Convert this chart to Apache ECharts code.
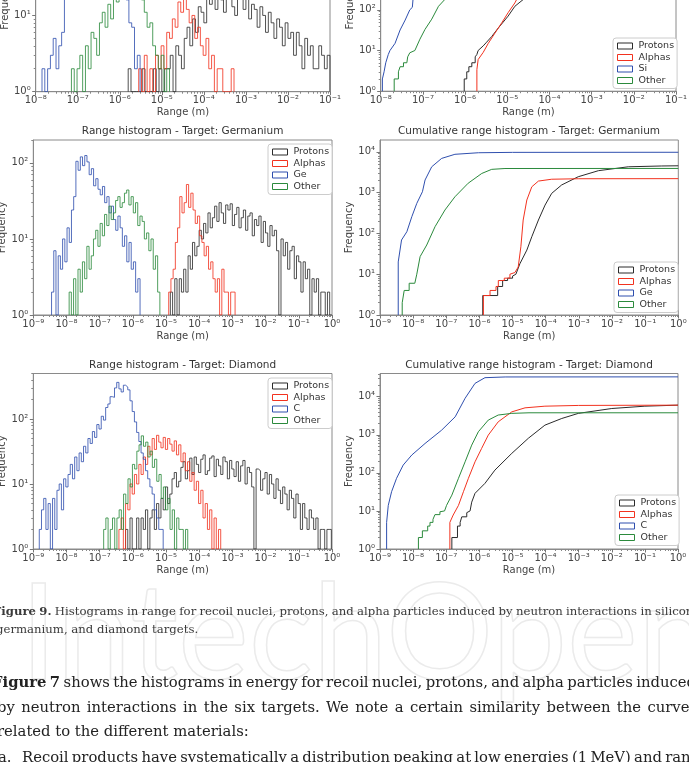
<!DOCTYPE html>
<html><head><meta charset="utf-8">
<script src="https://cdn.jsdelivr.net/npm/echarts@6/dist/echarts.min.js"></script>
<style>html,body{margin:0;padding:0;background:#fff;overflow:hidden}#c{width:689px;height:762px}</style>
</head><body><div id="c"></div>
<script>
// ---------------- DATA ----------------
// Histograms: counts per logarithmic bin (15 bins per decade), start = log10 of first bin's left edge
const BINS_PER_DECADE = 15;

// Silicon (range histogram)
const siProtonsStart = -5.80;
const siProtons = [2,0,0,0,0,2,0,0,0,2,0,2,0,2,2,3,1,4,3,2,5,7,4,9,6,13,11,8,18,14,20,12,22,16,11,19,24,13,10,18,21,12,17,9,14,12,7,13,10,6,11,8,5,9,7,4,8,5,6,3,6,4,2,5,3,4,2,2,4,3,2,3];
const siAlphasStart = -5.55;
const siAlphas = [2,0,3,0,2,1,3,2,4,2,6,5,9,7,15,11,19,12,8,10,5,7,4,3,5,2,3,1,2,2,0,0,0,2];
const siRecoilStart = -7.85;
const siRecoil = [2,0,2,3,5,2,4,6,60,75,90,110,100,95,85,78,70,62,55,48,44,38,34,30,28,27,24,22,20,18,16,8,7,2,3];
const siOtherStart = -7.15;
const siOther = [2,0,2,3,1,4,2,6,5,3,8,11,7,14,9,18,15,24,28,32,36,38,34,28,22,16,11,7,8,4,3,2,3,1,2];

// Germanium (range histogram)
const geProtonsStart = -4.87;
const geProtons = [2,1,3,1,3,2,4,2,6,4,9,6,8,13,10,16,12,22,14,19,27,17,30,22,16,28,24,29,15,21,26,14,19,24,13,20,22,11,18,15,20,9,17,12,8,15,11,13,7,0,10,6,9,4,7,8,3,6,5,2,5,3,4,1,3,2,3,1,2,2,0,2,0];
const geAlphasStart = -4.92;
const geAlphas = [2,3,4,9,14,36,22,30,52,26,40,24,16,20,11,9,6,8,4,5,3,2,3,1,4,2,2,1,2,2];
const geRecoilStart = -8.45;
const geRecoil = [2,7,1,6,4,10,5,14,9,24,36,105,80,120,92,125,103,70,84,50,62,45,38,49,30,36,22,27,18,13,20,14,8,11,5,9,4,5,2,3];
const geOtherStart = -7.92;
const geOther = [2,0,3,1,4,2,5,3,8,4,6,10,13,8,16,11,21,15,27,18,22,32,36,26,30,40,44,28,36,22,30,15,20,17,10,12,7,10,4,6,2];

// Diamond (range histogram)
const diaProtonsStart = -6.22;
const diaProtons = [2,0,3,1,0,3,1,3,2,4,1,3,4,2,5,3,6,4,9,5,7,12,15,9,11,18,22,12,16,25,14,26,20,15,24,28,14,16,25,27,13,24,19,14,26,22,12,23,17,13,22,11,19,23,10,18,15,9,0,17,16,8,12,15,7,14,10,6,12,8,5,9,7,4,8,6,3,7,5,2,5,3,2,4,3,2,3,1,2,2,0,2,2];
const diaAlphasStart = -6.42;
const diaAlphas = [2,3,1,5,4,10,7,14,10,20,14,26,20,38,28,50,34,56,44,36,52,34,50,41,32,46,28,40,22,30,16,22,11,15,8,11,5,8,3,5,2,4,1,3,1,2];
const diaRecoilStart = -8.82;
const diaRecoil = [2,4,6,2,5,1,6,2,8,10,4,12,9,14,20,12,26,16,30,22,38,30,50,42,64,52,82,70,110,96,150,170,220,215,300,365,290,260,330,310,280,190,130,90,62,45,30,24,16,12,9,7,4,3,2,2];
const diaOtherStart = -6.88;
const diaOther = [2,3,0,2,3,1,3,4,2,7,5,12,9,20,17,32,40,55,38,44,26,32,18,24,11,14,6,9,4,6,2,4,1,3,2,2,1,2];

// Cumulative histograms: [log10(range), cumulative count]
const siProtonsCum = [[-6.02,1],[-6.02,2],[-5.96,2],[-5.96,3],[-5.91,3],[-5.91,4],[-5.84,4],[-5.84,5],[-5.76,5],[-5.76,7],[-5.72,8],[-5.69,10],[-5.57,13],[-5.49,16],[-5.37,22],[-5.21,36],[-4.98,70],[-4.82,122],[-4.62,180],[-4.2,500],[-3.5,1500],[-2.5,3000],[-1.5,4000],[-1,4200]];
const siAlphasCum = [[-5.72,1],[-5.72,3.4],[-5.69,6],[-5.57,9],[-5.45,15],[-5.29,27],[-5.13,48],[-4.98,85],[-4.82,148],[-4.6,400],[-4.3,1200],[-4.0,2000],[-3.5,2300],[-1,2400]];
const siRecoilCum = [[-7.96,1],[-7.96,2],[-7.92,2],[-7.92,3],[-7.88,3],[-7.88,5],[-7.84,5],[-7.82,8],[-7.78,10],[-7.66,15],[-7.54,32],[-7.42,56],[-7.31,100],[-7.25,115],[-7.23,200],[-7.1,600],[-6.9,1800],[-6.6,5000],[-6.2,8500],[-5.6,10000],[-1,10200]];
const siOtherCum = [[-7.68,1],[-7.68,2],[-7.58,2],[-7.58,3],[-7.54,3],[-7.54,4],[-7.46,4],[-7.46,5],[-7.38,5],[-7.36,7],[-7.31,8.8],[-7.19,10],[-7.07,19],[-6.95,33],[-6.79,59],[-6.63,122],[-6.48,180],[-6.2,500],[-5.8,1500],[-5.4,3000],[-5.0,3800],[-1,3900]];

const geProtonsCum = [[-5.9,1],[-5.9,3],[-5.45,3],[-5.45,5],[-5.3,5],[-5.3,7],[-5.15,7],[-5.15,8],[-5.0,8],[-5.0,9],[-4.9,10],[-4.78,18],[-4.57,39],[-4.42,83],[-4.22,213],[-4.02,495],[-3.82,960],[-3.52,1540],[-3.02,2450],[-2.41,3450],[-1.51,4300],[-0.5,4500],[0,4550]];
const geAlphasCum = [[-5.88,1],[-5.88,3],[-5.68,3],[-5.68,4],[-5.5,4],[-5.5,5],[-5.43,5],[-5.43,7],[-5.25,7],[-5.25,8],[-5.08,8],[-5.08,10],[-4.93,11],[-4.83,15],[-4.75,47],[-4.68,213],[-4.57,660],[-4.42,1390],[-4.22,1920],[-3.82,2130],[-3.0,2190],[0,2200]];
const geRecoilCum = [[-8.45,1],[-8.45,20],[-8.35,69],[-8.19,110],[-8.04,257],[-7.89,545],[-7.72,1050],[-7.64,2040],[-7.44,4300],[-7.14,6900],[-6.74,8700],[-6.03,9500],[-5.0,9700],[0,9750]];
const geOtherCum = [[-8.33,1],[-8.33,2],[-8.27,2],[-8.27,4],[-8.12,4],[-8.12,6],[-7.95,6],[-7.89,10],[-7.79,27],[-7.59,52],[-7.34,146],[-7.04,375],[-6.74,790],[-6.34,1700],[-5.93,2950],[-5.63,3720],[-5.23,3900],[0,3920]];

const diaProtonsCum = [[-6.83,1],[-6.83,2],[-6.66,2],[-6.66,4],[-6.58,4],[-6.58,5],[-6.53,5],[-6.53,7],[-6.38,7],[-6.38,9],[-6.28,10],[-6.23,17],[-6.13,29],[-5.83,53],[-5.53,118],[-5.02,325],[-4.52,810],[-4.02,1790],[-3.51,2680],[-3.01,3650],[-2.0,4900],[-1.0,5640],[0,6000]];
const diaAlphasCum = [[-6.89,1],[-6.89,5],[-6.79,7.8],[-6.63,14],[-6.48,32],[-6.33,72],[-6.13,195],[-5.93,440],[-5.73,980],[-5.43,2190],[-5.02,4000],[-4.62,5100],[-4.02,5640],[-3.0,5900],[0,6000]];
const diaRecoilCum = [[-8.80,1],[-8.80,5],[-8.75,14],[-8.65,32],[-8.50,72],[-8.30,160],[-8.04,294],[-7.64,590],[-7.14,1320],[-6.73,2960],[-6.43,9100],[-6.13,22400],[-5.83,31600],[-5.22,33000],[0,33200]];
const diaOtherCum = [[-7.84,1],[-7.84,2],[-7.72,2],[-7.72,3],[-7.56,3],[-7.56,4],[-7.49,4],[-7.49,5],[-7.40,5],[-7.40,6],[-7.34,6],[-7.34,8],[-7.19,8],[-7.19,9.5],[-7.05,10],[-6.99,14],[-6.83,26],[-6.63,72],[-6.43,195],[-6.23,535],[-6.03,1200],[-5.73,2430],[-5.43,3300],[-5.02,3650],[-4.5,3780],[0,3780]];

// Labels
const seriesNames = ['Protons','Alphas',null,'Other'];
const recoilNames = ['Si','Ge','C'];
const titles = ['Range histogram - Target: Silicon','Cumulative range histogram - Target: Silicon',
  'Range histogram - Target: Germanium','Cumulative range histogram - Target: Germanium',
  'Range histogram - Target: Diamond','Cumulative range histogram - Target: Diamond'];
const xAxisTitle = 'Range (m)';
const yAxisTitle = 'Frequency';
const xDecadesSi = [1e-8,1e-7,1e-6,1e-5,1e-4,1e-3,1e-2,1e-1];
const xDecades = [1e-9,1e-8,1e-7,1e-6,1e-5,1e-4,1e-3,1e-2,1e-1,1];
const yDecadesHist = [1,10,100];
const yDecadesCum = [1,10,100,1000,10000];

const captionBold = 'Figure 9.';
const captionLine1 = 'Histograms in range for recoil nuclei, protons, and alpha particles induced by neutron interactions in silicon,';
const captionLine2 = 'germanium, and diamond targets.';
const bodyBold = 'Figure 7';
const bodyLine1 = 'shows the histograms in energy for recoil nuclei, protons, and alpha particles induced';
const bodyLine2 = 'by neutron interactions in the six targets. We note a certain similarity between the curves';
const bodyLine3 = 'related to the different materials:';
const bodyItemLabel = 'a.';
const bodyLine4 = 'Recoil products have systematically a distribution peaking at low energies (1 MeV) and range';
const watermark = 'IntechOpen';

// ---------------- STYLE / LAYOUT ----------------
const COLORS = ['#2b2b2b','#f2321f','#2f4fae','#2b8a3c'];
const FONT = 'DejaVu Sans';
const panels = [
  {left:35.7, top:-83.8, width:294.3, height:175.5, xr:[1e-8,1e-1], ymax:200, cum:false, legend:{left:268,top:-79}},
  {left:380.7, top:-83.8, width:295.3, height:175, xr:[1e-8,1e-1], ymax:20000, cum:true, legend:{left:613,top:38}},
  {left:33.3, top:140, width:298.7, height:175, xr:[1e-9,1], ymax:200, cum:false, legend:{left:268,top:144}},
  {left:380, top:140, width:298.3, height:175, xr:[1e-9,1], ymax:19500, cum:true, legend:{left:614,top:262}},
  {left:33.3, top:373.5, width:298.7, height:175.5, xr:[1e-9,1], ymax:500, cum:false, legend:{left:268,top:378}},
  {left:380, top:373.5, width:298, height:175.5, xr:[1e-9,1], ymax:40700, cum:true, legend:{left:615,top:495}}
];
const histSets = [
  [[siProtonsStart,siProtons],[siAlphasStart,siAlphas],[siRecoilStart,siRecoil],[siOtherStart,siOther]],
  [siProtonsCum,siAlphasCum,siRecoilCum,siOtherCum],
  [[geProtonsStart,geProtons],[geAlphasStart,geAlphas],[geRecoilStart,geRecoil],[geOtherStart,geOther]],
  [geProtonsCum,geAlphasCum,geRecoilCum,geOtherCum],
  [[diaProtonsStart,diaProtons],[diaAlphasStart,diaAlphas],[diaRecoilStart,diaRecoil],[diaOtherStart,diaOther]],
  [diaProtonsCum,diaAlphasCum,diaRecoilCum,diaOtherCum]
];

function histPoints(start, counts){
  const pts = [[Math.pow(10,start),1]];
  counts.forEach((c,i)=>pts.push([Math.pow(10,start+i/BINS_PER_DECADE), c>0?c:1]));
  pts.push([Math.pow(10,start+counts.length/BINS_PER_DECADE),1]);
  return pts;
}
function cumPoints(arr){ return arr.map(p=>[Math.pow(10,p[0]),p[1]]); }
const SUP = {'-':'\u207B','0':'\u2070','1':'\u00B9','2':'\u00B2','3':'\u00B3','4':'\u2074','5':'\u2075','6':'\u2076','7':'\u2077','8':'\u2078','9':'\u2079'};
function powLabel(v){
  const l = Math.log10(v), e = Math.round(l);
  if (Math.abs(l-e) > 1e-6) return '';
  return '10' + String(e).split('').map(c=>SUP[c]).join('');
}
function minorTicks(lo, hi){
  const out=[]; for(let k=lo;k<hi;k++) for(let m=2;m<=9;m++) out.push(m*Math.pow(10,k)); return out;
}

const grid=[], xAxis=[], yAxis=[], series=[], legend=[];
panels.forEach((p,g)=>{
  grid.push({left:p.left, top:p.top, width:p.width, height:p.height, containLabel:false, outerBoundsMode:'none',
    show:true, borderColor:'#8a8a8a', borderWidth:1, backgroundColor:'transparent'});
  const xMaj = g<2 ? xDecadesSi : xDecades;
  const yMaj = p.cum ? yDecadesCum : yDecadesHist;
  const lx = Math.round(Math.log10(p.xr[0])), hx = Math.round(Math.log10(p.xr[1]));
  const hy = Math.ceil(Math.log10(p.ymax));
  xAxis.push({type:'log', gridIndex:g, min:p.xr[0], max:p.xr[1], position:'bottom',
    name:xAxisTitle, nameLocation:'middle', nameGap:16, nameTextStyle:{fontFamily:FONT,fontSize:10,color:'#444'},
    axisLine:{show:true,lineStyle:{color:'#8a8a8a',width:1}}, splitLine:{show:false},
    axisTick:{show:true,length:3.5,lineStyle:{color:'#777'},customValues:xMaj},
    axisLabel:{fontFamily:FONT,fontSize:10,color:'#444',margin:4,formatter:powLabel,customValues:xMaj,showMinLabel:true,showMaxLabel:true}});
  xAxis.push({type:'log', gridIndex:g, min:p.xr[0], max:p.xr[1], position:'bottom', offset:0,
    axisLine:{show:false}, splitLine:{show:false}, axisLabel:{show:false},
    axisTick:{show:true,length:2,lineStyle:{color:'#888'},customValues:minorTicks(lx,hx)}});
  yAxis.push({type:'log', gridIndex:g, min:1, max:p.ymax, position:'left',
    name:yAxisTitle, nameLocation:'middle', nameGap:21, nameTextStyle:{fontFamily:FONT,fontSize:10,color:'#444'},
    axisLine:{show:true,lineStyle:{color:'#8a8a8a',width:1}}, splitLine:{show:false},
    axisTick:{show:true,length:3.5,lineStyle:{color:'#777'},customValues:yMaj},
    axisLabel:{fontFamily:FONT,fontSize:10,color:'#444',margin:5,formatter:powLabel,customValues:yMaj}});
  yAxis.push({type:'log', gridIndex:g, min:1, max:p.ymax, position:'left', offset:0,
    axisLine:{show:false}, splitLine:{show:false}, axisLabel:{show:false},
    axisTick:{show:true,length:2,lineStyle:{color:'#888'},customValues:minorTicks(0,hy).filter(v=>v<=p.ymax)}});
  const names = seriesNames.map((n,i)=> i===2 ? recoilNames[g>>1] : n);
  histSets[g].forEach((d,i)=>{
    series.push({type:'line', name:names[i], xAxisIndex:2*g, yAxisIndex:2*g,
      data: p.cum ? cumPoints(d) : histPoints(d[0], d[1]),
      step: p.cum ? false : 'end', symbol:'none', showSymbol:false, clip:true, silent:true,
      lineStyle:{color:COLORS[i], width:1, opacity: p.cum?1:0.82}, itemStyle:{color:COLORS[i]}});
  });
  legend.push({orient:'vertical', left:p.legend.left, top:p.legend.top, selectedMode:false,
    icon:'rect', itemWidth:15, itemHeight:6, itemGap:1.5,
    data: names.map((n,i)=>({name:n, itemStyle:{color:'#fff', borderColor:COLORS[i], borderWidth:1}})),
    textStyle:{fontFamily:FONT, fontSize:9.5, color:'#333', padding:[0,0,0,1]},
    padding:[3,3,3,4], borderColor:'#cccccc', borderWidth:1, borderRadius:3, backgroundColor:'#ffffff'});
});

const titleCenters = [[183,-101.5],[528.5,-101.5],[182.6,131.7],[529,131.7],[182.6,365.6],[529,365.6]];
const graphic = [
  {type:'text', z:-10, silent:true, style:{text:watermark, x:20, y:636, textVerticalAlign:'middle',
    font:'134px Lato', fill:'rgba(0,0,0,0)', stroke:'#ebebeb', lineWidth:1.5}}
];
titles.forEach((t,i)=>graphic.push({type:'text', silent:true, style:{text:t, x:titleCenters[i][0], y:titleCenters[i][1],
  textAlign:'center', textVerticalAlign:'middle', font:'10.5px "DejaVu Sans"', fill:'#333'}}));

// page text (justified lines are laid out word by word)
const mctx = document.createElement('canvas').getContext('2d');
function placeWords(words, boldCount, y, x0, x1, size, color){
  const fonts = words.map((w,i)=> (i<boldCount?'bold ':'') + size + 'px "DejaVu Serif"');
  const widths = words.map((w,i)=>{ mctx.font = fonts[i]; return mctx.measureText(w).width; });
  mctx.font = size + 'px "DejaVu Serif"';
  const sp = mctx.measureText(' ').width;
  const total = widths.reduce((a,b)=>a+b,0);
  let gap = x1==null ? sp : (x1 - x0 - total)/(words.length-1);
  if (gap < sp*0.7) gap = sp*0.7;
  let x = x0;
  words.forEach((w,i)=>{
    graphic.push({type:'text', silent:true, style:{text:w, x:x, y:y, textVerticalAlign:'middle', font:fonts[i], fill:color}});
    x += widths[i] + gap;
  });
}
const CAP = 11.7, BODY = 14.8;
placeWords([...captionBold.split(' '), ...captionLine1.split(' ')], 2, 612, -7, 697, CAP, '#3a3a3a');
placeWords(captionLine2.split(' '), 0, 630, -4, null, CAP, '#3a3a3a');
placeWords([...bodyBold.split(' '), ...bodyLine1.split(' ')], 2, 683, -8, 696, BODY, '#222');
placeWords(bodyLine2.split(' '), 0, 708, -3, 697, BODY, '#222');
placeWords(bodyLine3.split(' '), 0, 732, -3, null, BODY, '#222');
placeWords([bodyItemLabel], 0, 758, -2, null, BODY, '#222');
placeWords(bodyLine4.split(' '), 0, 758, 22, 706, BODY, '#222');

const chart = echarts.init(document.getElementById('c'), null, {renderer:'canvas'});
chart.setOption({animation:false, backgroundColor:'#fff', grid, xAxis, yAxis, series, legend, graphic});
</script></body></html>
